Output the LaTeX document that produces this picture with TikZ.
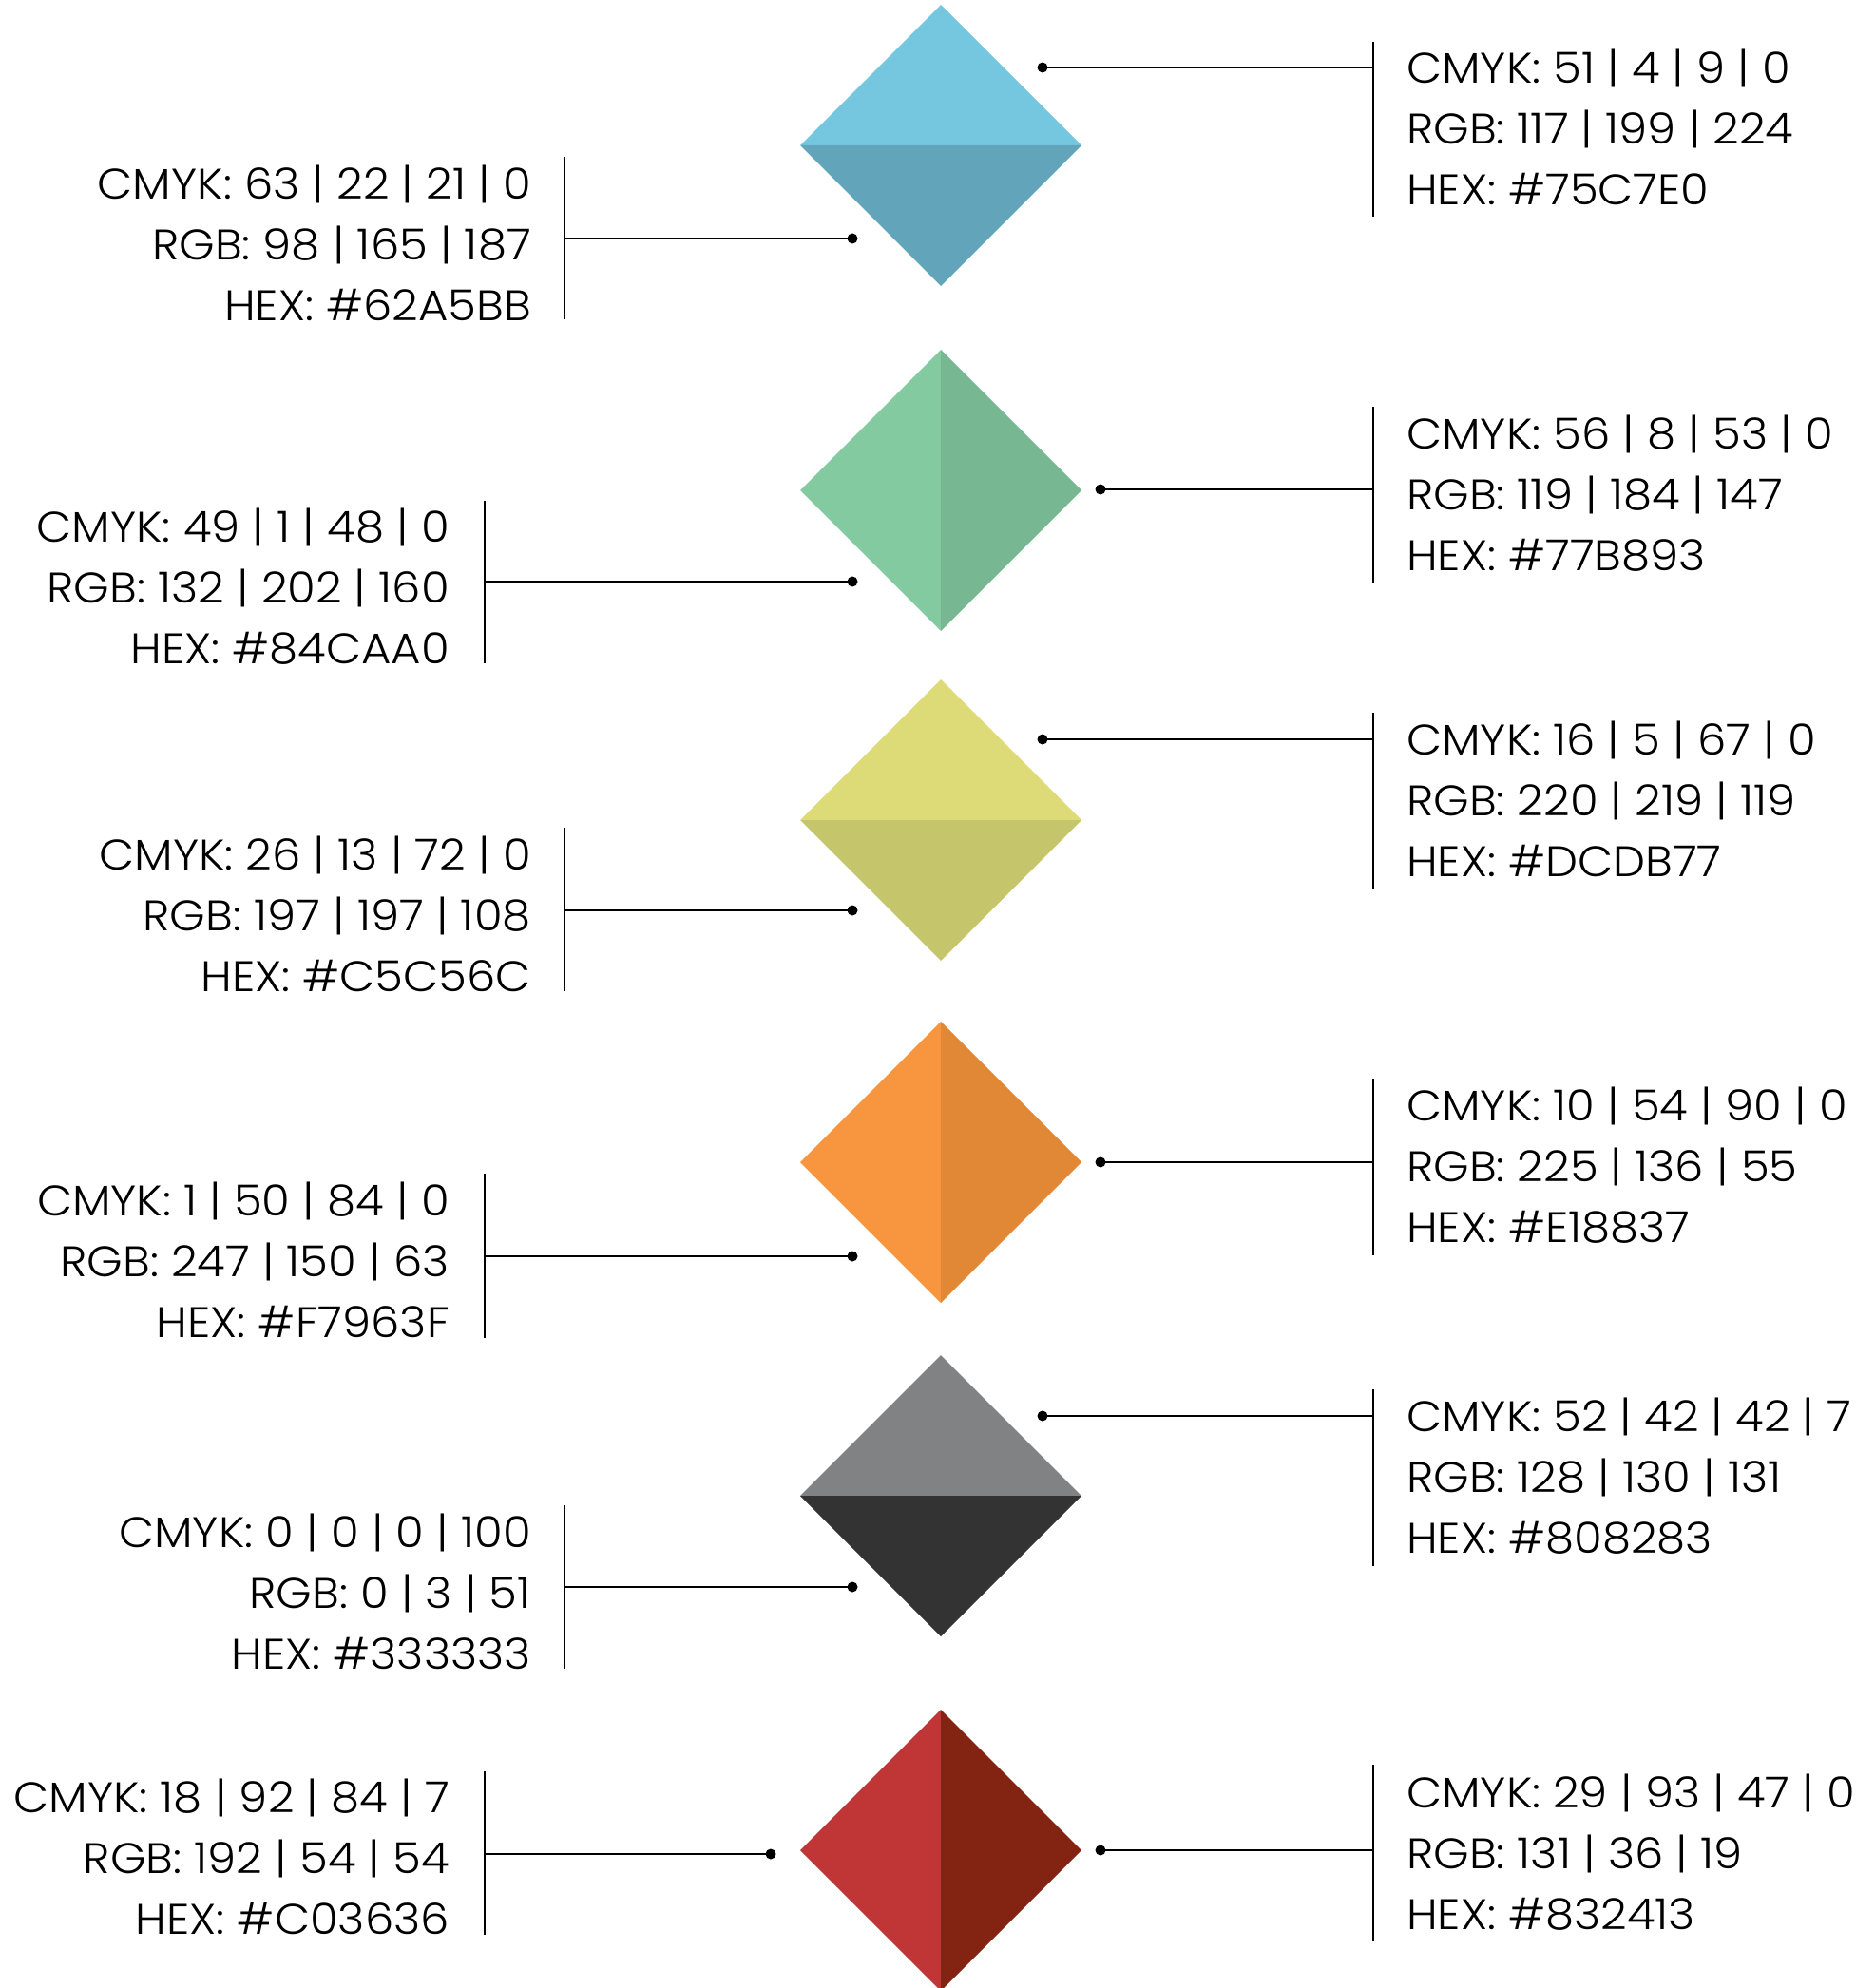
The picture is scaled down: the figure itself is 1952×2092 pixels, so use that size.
\documentclass[tikz,border=0pt]{standalone}
\usepackage{fontspec}
\setmainfont{Poppins}[UprightFont=* Light,FakeStretch=1.07]

\definecolor{skyTop}{HTML}{75C7E0}
\definecolor{skyBot}{HTML}{62A5BB}
\definecolor{mintL}{HTML}{84CAA0}
\definecolor{mintR}{HTML}{77B893}
\definecolor{limeTop}{HTML}{DCDB77}
\definecolor{limeBot}{HTML}{C5C56C}
\definecolor{orangeL}{HTML}{F7963F}
\definecolor{orangeR}{HTML}{E18837}
\definecolor{greyTop}{HTML}{808283}
\definecolor{greyBot}{HTML}{333333}
\definecolor{redL}{HTML}{C03636}
\definecolor{redR}{HTML}{832413}

\begin{document}
\begin{tikzpicture}[x=1pt,y=-1pt,
  every node/.style={inner sep=0pt,font=\fontsize{45}{64}\selectfont},
  rlabel/.style={anchor=west,align=left},
  llabel/.style={anchor=east,align=right},
  lead/.style={black,line width=2.6pt},
  bar/.style={black,line width=2.4pt},
  tip/.style={fill=black}]
\useasboundingbox (0,0) rectangle (1952,2092);

% diamonds
\fill[skyTop] (990,5) -- (1138,153) -- (842,153) -- cycle;
\fill[skyBot] (842,153) -- (1138,153) -- (990,301) -- cycle;
\fill[mintL] (990,368) -- (990,664) -- (842,516) -- cycle;
\fill[mintR] (990,368) -- (1138,516) -- (990,664) -- cycle;
\fill[limeTop] (990,715) -- (1138,863) -- (842,863) -- cycle;
\fill[limeBot] (842,863) -- (1138,863) -- (990,1011) -- cycle;
\fill[orangeL] (990,1075) -- (990,1371) -- (842,1223) -- cycle;
\fill[orangeR] (990,1075) -- (1138,1223) -- (990,1371) -- cycle;
\fill[greyTop] (990,1426) -- (1138,1574) -- (842,1574) -- cycle;
\fill[greyBot] (842,1574) -- (1138,1574) -- (990,1722) -- cycle;
\fill[redL] (990,1799) -- (990,2095) -- (842,1947) -- cycle;
\fill[redR] (990,1799) -- (1138,1947) -- (990,2095) -- cycle;

% right labels
\node[rlabel] (r1) at (1480,134) {CMYK: 51 | 4 | 9 | 0\\RGB: 117 | 199 | 224\\HEX: \#75C7E0};
\node[rlabel] (r2) at (1480,519) {CMYK: 56 | 8 | 53 | 0\\RGB: 119 | 184 | 147\\HEX: \#77B893};
\node[rlabel] (r3) at (1480,841) {CMYK: 16 | 5 | 67 | 0\\RGB: 220 | 219 | 119\\HEX: \#DCDB77};
\node[rlabel] (r4) at (1480,1226) {CMYK: 10 | 54 | 90 | 0\\RGB: 225 | 136 | 55\\HEX: \#E18837};
\node[rlabel] (r5) at (1480,1553) {CMYK: 52 | 42 | 42 | 7\\RGB: 128 | 130 | 131\\HEX: \#808283};
\node[rlabel] (r6) at (1480,1949) {CMYK: 29 | 93 | 47 | 0\\RGB: 131 | 36 | 19\\HEX: \#832413};

% left labels
\node[llabel] (l1) at (559,256) {CMYK: 63 | 22 | 21 | 0\\RGB: 98 | 165 | 187\\HEX: \#62A5BB};
\node[llabel] (l2) at (473,617) {CMYK: 49 | 1 | 48 | 0\\RGB: 132 | 202 | 160\\HEX: \#84CAA0};
\node[llabel] (l3) at (559,962) {CMYK: 26 | 13 | 72 | 0\\RGB: 197 | 197 | 108\\HEX: \#C5C56C};
\node[llabel] (l4) at (473,1326) {CMYK: 1 | 50 | 84 | 0\\RGB: 247 | 150 | 63\\HEX: \#F7963F};
\node[llabel] (l5) at (559,1675) {CMYK: 0 | 0 | 0 | 100\\RGB: 0 | 3 | 51\\HEX: \#333333};
\node[llabel] (l6) at (473,1954) {CMYK: 18 | 92 | 84 | 7\\RGB: 192 | 54 | 54\\HEX: \#C03636};

% bars
\draw[bar] (1445,44) -- (1445,228);
\draw[bar] (1445,428) -- (1445,614);
\draw[bar] (1445,750) -- (1445,935);
\draw[bar] (1445,1135) -- (1445,1321);
\draw[bar] (1445,1462) -- (1445,1648);
\draw[bar] (1445,1857) -- (1445,2043);
\draw[bar] (594,165) -- (594,336);
\draw[bar] (510,527) -- (510,698);
\draw[bar] (594,871) -- (594,1043);
\draw[bar] (510,1235) -- (510,1408);
\draw[bar] (594,1584) -- (594,1756);
\draw[bar] (510,1864) -- (510,2036);

% connector ends
\coordinate (pr1) at (1097,71);   \coordinate (br1) at (1445,71);
\coordinate (pr2) at (1158,515);  \coordinate (br2) at (1445,515);
\coordinate (pr3) at (1097,778);  \coordinate (br3) at (1445,778);
\coordinate (pr4) at (1158,1223); \coordinate (br4) at (1445,1223);
\coordinate (pr5) at (1097,1490); \coordinate (br5) at (1445,1490);
\coordinate (pr6) at (1158,1947); \coordinate (br6) at (1445,1947);
\coordinate (pl1) at (897,251);   \coordinate (bl1) at (594,251);
\coordinate (pl2) at (897,612);   \coordinate (bl2) at (510,612);
\coordinate (pl3) at (897,958);   \coordinate (bl3) at (594,958);
\coordinate (pl4) at (897,1322);  \coordinate (bl4) at (510,1322);
\coordinate (pl5) at (897,1670);  \coordinate (bl5) at (594,1670);
\coordinate (pl6) at (811,1951);  \coordinate (bl6) at (510,1951);

% connectors
\foreach \s in {r1,r2,r3,r4,r5,r6,l1,l2,l3,l4,l5,l6}{
  \draw[lead] (p\s) -- (b\s);
  \fill[tip] (p\s) circle (5.5);
}
\end{tikzpicture}
\end{document}
